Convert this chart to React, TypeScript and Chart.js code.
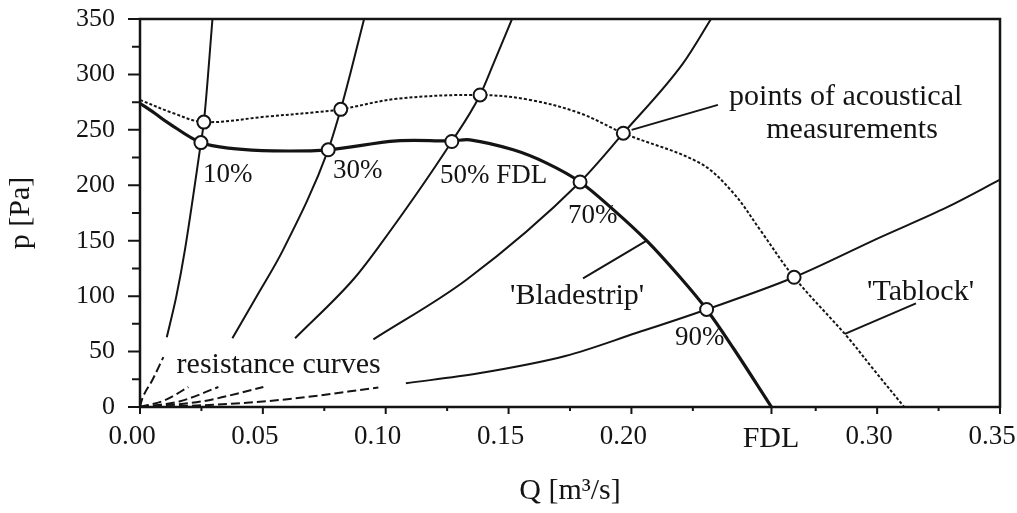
import React, { useEffect, useRef } from 'react';
import { Chart, registerables } from 'chart.js';

Chart.register(...registerables);

const INK = '#141414';
const SERIF = '"Liberation Serif", "DejaVu Serif", serif';

// Axis ticks
const FDL = 0.257;
const X_MAJOR = [0, 0.05, 0.1, 0.15, 0.2, FDL, 0.3, 0.35];
const X_MINOR = [0.025, 0.075, 0.125, 0.175, 0.225, 0.275, 0.325];
const Y_MAJOR = [0, 50, 100, 150, 200, 250, 300, 350];
const Y_MINOR = [25, 75, 125, 175, 225, 275, 325];

// Fan characteristic 'Bladestrip' (solid)
const BLADESTRIP_Q = [0, 0.006, 0.011, 0.0248, 0.038, 0.0543, 0.0766, 0.1045, 0.1269, 0.1343, 0.1519, 0.1655, 0.1791, 0.1926, 0.2062, 0.2198, 0.2306, 0.2415, 0.257];
const BLADESTRIP_P = [274, 265, 257, 238.5, 233, 231, 232, 240, 240, 241, 232, 220, 203, 178, 150, 117, 88, 53, 0];

// Fan characteristic 'Tablock' (dotted)
const TABLOCK_Q = [0, 0.0136, 0.026, 0.0516, 0.0719, 0.0817, 0.1045, 0.1384, 0.1587, 0.1791, 0.1967, 0.2279, 0.2415, 0.2523, 0.2662, 0.2876, 0.2985, 0.311];
const TABLOCK_P = [277, 265, 257, 262, 266, 268.5, 278, 281.5, 277, 265, 247, 220, 193, 160, 117, 64, 34, 0];

// Points of acoustical measurements
const BLADE_PT_Q = [0.0248, 0.0766, 0.1269, 0.1791, 0.2306];
const BLADE_PT_P = [238.5, 232, 239.5, 203, 88];
const TAB_PT_Q = [0.026, 0.0817, 0.1384, 0.1967, 0.2662];
const TAB_PT_P = [257, 268.5, 281.5, 247, 117];

// Resistance curves: lower (broken) and upper parts
const R10_LOW_Q = [0, 0.0007, 0.0052, 0.0095];
const R10_LOW_P = [0, 6, 25, 45];
const R10_UP_Q = [0.0109, 0.0148, 0.0183, 0.0248, 0.026, 0.0295];
const R10_UP_P = [63, 100, 142, 238.5, 257, 350];

const R30_LOW_Q = [0, 0.01, 0.0197];
const R30_LOW_P = [0, 6, 18];
const R30_UP_Q = [0.0376, 0.0475, 0.0583, 0.0766, 0.0817, 0.0855, 0.0912];
const R30_UP_P = [62, 100, 142, 232, 268.5, 300, 350];

const R50_LOW_Q = [0, 0.016, 0.0319];
const R50_LOW_P = [0, 5, 18];
const R50_UP_Q = [0.0631, 0.0868, 0.0963, 0.1269, 0.1384, 0.1439, 0.1514];
const R50_UP_P = [62, 115, 142, 239.5, 281.5, 310, 350];

const R70_LOW_Q = [0, 0.025, 0.0502];
const R70_LOW_P = [0, 5, 18];
const R70_UP_Q = [0.095, 0.133, 0.1791, 0.1967, 0.221, 0.2324];
const R70_UP_P = [61, 115, 203, 247, 310, 350];

const R90_LOW_Q = [0, 0.03, 0.06, 0.097];
const R90_LOW_P = [0, 2, 7, 17.6];
const R90_UP_Q = [0.1082, 0.1379, 0.1731, 0.2019, 0.2306, 0.2662, 0.3012, 0.3283, 0.35];
const R90_UP_P = [21.4, 30.4, 46, 66.7, 88, 117, 153, 180, 205];

// Leader lines
const LEAD_ACOUSTIC_Q = [0.2001, 0.2352];
const LEAD_ACOUSTIC_P = [250, 272.5];
const LEAD_BLADE_Q = [0.1803, 0.2062];
const LEAD_BLADE_P = [116, 150];
const LEAD_TAB_Q = [0.2869, 0.3158];
const LEAD_TAB_P = [66, 93.5];

// Annotation texts
const NOTE_TEXT = ['10%', '30%', '50% FDL', '70%', '90%', "'Bladestrip'", "'Tablock'", 'points of acoustical', 'measurements', 'resistance curves'];
const NOTE_Q = [0.0256, 0.0785, 0.1221, 0.1742, 0.2177, 0.1506, 0.2959, 0.2872, 0.2898, 0.0149];
const NOTE_P = [203, 206.6, 202.1, 166, 55.9, 92.9, 96.5, 272.4, 242.7, 30.7];
const NOTE_SIZE = [27, 27, 27, 27, 27, 30, 30, 30, 30, 30];
const NOTE_ALIGN = ['left', 'left', 'left', 'left', 'left', 'left', 'left', 'center', 'center', 'left'];

const pts = (q: number[], p: number[]) => q.map((x, i) => ({ x, y: p[i] }));

const curve = (q: number[], p: number[], width: number, dash: number[] = [], smooth = 'monotone') => ({
  data: pts(q, p),
  borderColor: INK,
  borderWidth: width,
  borderDash: dash,
  pointRadius: 0,
  showLine: true,
  fill: false,
  cubicInterpolationMode: smooth,
  tension: 0.35,
});

const straight = (q: number[], p: number[]) => ({
  data: pts(q, p),
  borderColor: INK,
  borderWidth: 2,
  pointRadius: 0,
  showLine: true,
  fill: false,
  tension: 0,
});

const decor = {
  id: 'decor',
  afterDraw(chart: any) {
    const { ctx, chartArea: a, scales } = chart;
    const x = scales.x;
    const y = scales.y;
    ctx.save();
    ctx.strokeStyle = INK;
    ctx.lineWidth = 2.5;
    ctx.strokeRect(a.left, a.top, a.right - a.left, a.bottom - a.top);
    ctx.lineWidth = 2;
    ctx.beginPath();
    X_MAJOR.forEach((v) => {
      const px = x.getPixelForValue(v);
      ctx.moveTo(px, a.bottom);
      ctx.lineTo(px, a.bottom + 7);
    });
    X_MINOR.forEach((v) => {
      const px = x.getPixelForValue(v);
      ctx.moveTo(px, a.bottom);
      ctx.lineTo(px, a.bottom + 4);
    });
    Y_MAJOR.forEach((v) => {
      const py = y.getPixelForValue(v);
      ctx.moveTo(a.left, py);
      ctx.lineTo(a.left - 12, py);
    });
    Y_MINOR.forEach((v) => {
      const py = y.getPixelForValue(v);
      ctx.moveTo(a.left, py);
      ctx.lineTo(a.left - 8, py);
    });
    ctx.stroke();

    ctx.fillStyle = INK;
    ctx.textBaseline = 'alphabetic';
    NOTE_TEXT.forEach((t, i) => {
      ctx.font = `${NOTE_SIZE[i]}px ${SERIF}`;
      ctx.textAlign = NOTE_ALIGN[i];
      ctx.fillText(t, x.getPixelForValue(NOTE_Q[i]), y.getPixelForValue(NOTE_P[i]));
    });
    ctx.restore();
  },
};

export default function App() {
  const ref = useRef<HTMLCanvasElement>(null);

  useEffect(() => {
    if (!ref.current) return;
    const markers = {
      data: [...pts(BLADE_PT_Q, BLADE_PT_P), ...pts(TAB_PT_Q, TAB_PT_P)],
      showLine: false,
      pointRadius: 6.5,
      pointBackgroundColor: '#ffffff',
      pointBorderColor: INK,
      pointBorderWidth: 2,
      borderColor: INK,
    };
    const chart = new Chart(ref.current, {
      type: 'line',
      data: {
        datasets: [
          markers,
          curve(BLADESTRIP_Q, BLADESTRIP_P, 3.2, [], 'default'),
          curve(TABLOCK_Q, TABLOCK_P, 2, [3, 2], 'default'),
          curve(R10_UP_Q, R10_UP_P, 2),
          curve(R30_UP_Q, R30_UP_P, 2),
          curve(R50_UP_Q, R50_UP_P, 2),
          curve(R70_UP_Q, R70_UP_P, 2),
          curve(R90_UP_Q, R90_UP_P, 2),
          curve(R10_LOW_Q, R10_LOW_P, 2, [9, 4]),
          curve(R30_LOW_Q, R30_LOW_P, 2, [9, 4]),
          curve(R50_LOW_Q, R50_LOW_P, 2, [9, 4]),
          curve(R70_LOW_Q, R70_LOW_P, 2, [9, 4]),
          curve(R90_LOW_Q, R90_LOW_P, 2, [9, 4]),
          straight(LEAD_ACOUSTIC_Q, LEAD_ACOUSTIC_P),
          straight(LEAD_BLADE_Q, LEAD_BLADE_P),
          straight(LEAD_TAB_Q, LEAD_TAB_P),
        ] as any,
      },
      options: {
        responsive: false,
        animation: false,
        events: [],
        layout: { padding: { left: 0, top: 19, right: 17, bottom: 0 } },
        plugins: { legend: { display: false }, tooltip: { enabled: false } },
        scales: {
          x: {
            type: 'linear',
            min: 0,
            max: 0.35,
            afterBuildTicks: (s: any) => {
              s.ticks = X_MAJOR.map((v) => ({ value: v }));
            },
            afterFit: (s: any) => {
              s.height = 106;
              s.paddingLeft = 0;
              s.paddingRight = 0;
            },
            grid: { display: false, drawTicks: false },
            border: { display: false },
            ticks: {
              padding: 14,
              labelOffset: -8,
              color: INK,
              autoSkip: false,
              maxRotation: 0,
              font: (c: any) => ({ family: SERIF, size: c.tick && c.tick.value === FDL ? 30 : 27 }),
              callback: (v: any) => (v === FDL ? '\u2002FDL' : Number(v).toFixed(2)),
            },
            title: {
              display: true,
              text: 'Q [m³/s]',
              color: INK,
              font: { family: SERIF, size: 30 },
              padding: { top: 0, bottom: 4 },
            },
          },
          y: {
            type: 'linear',
            min: 0,
            max: 350,
            afterBuildTicks: (s: any) => {
              s.ticks = Y_MAJOR.map((v) => ({ value: v }));
            },
            afterFit: (s: any) => {
              s.width = 140;
              s.paddingTop = 0;
              s.paddingBottom = 0;
            },
            grid: { display: false, drawTicks: false },
            border: { display: false },
            ticks: {
              padding: 25,
              color: INK,
              font: { family: SERIF, size: 26 },
              callback: (v: any) => String(v),
            },
            title: {
              display: true,
              text: 'p [Pa]',
              color: INK,
              font: { family: SERIF, size: 30 },
              padding: { top: 3, bottom: 0 },
            },
          },
        },
      } as any,
      plugins: [decor],
    });
    return () => chart.destroy();
  }, []);

  return (
    <div style={{ position: 'absolute', left: 0, top: 0, width: 1017, height: 513, background: '#fff' }}>
      <canvas ref={ref} width={1017} height={513} style={{ display: 'block' }} />
    </div>
  );
}
